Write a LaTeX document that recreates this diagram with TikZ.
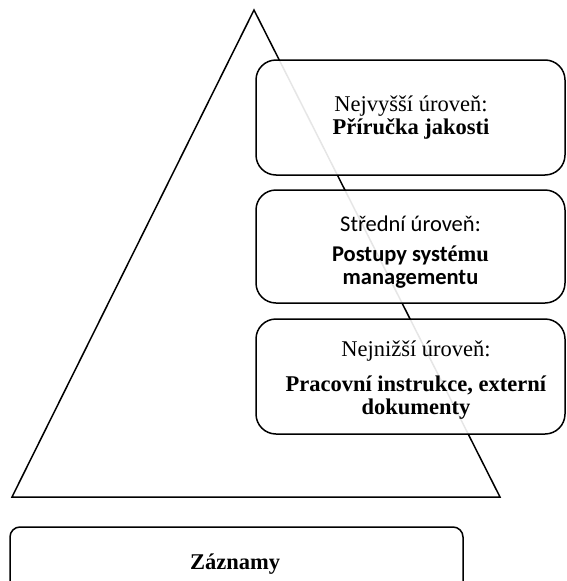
\documentclass[tikz,border=0pt]{standalone}
\usepackage{fontspec}
\setmainfont{Liberation Serif}
\newfontfamily\calib{Carlito}
\begin{document}
\begin{tikzpicture}[x=1pt,y=-1pt,
  lvlbox/.style={draw=black, line width=1.5pt, rounded corners=20pt, fill=white, fill opacity=0.9, inner sep=0pt},
  recbox/.style={draw=black, line width=1.5pt, rounded corners=10pt, fill=white, inner sep=0pt},
  lbl/.style={align=center, inner sep=0pt, font=\fontsize{22.5}{23}\selectfont},
  tri/.style={draw=black, line width=1.5pt, line join=miter}]
\useasboundingbox (0,0) rectangle (566,581);
\clip (0,0) rectangle (566,581);
% pyramid
\coordinate (apex) at (254,10);
\coordinate (bl) at (12,497);
\coordinate (br) at (500,497);
\draw[tri] (apex) -- (br) -- (bl) -- cycle;
% level boxes
\node[lvlbox, minimum width=309pt, minimum height=115pt] (b1) at (410.5,117.5) {};
\node[lvlbox, minimum width=309pt, minimum height=113pt] (b2) at (410.5,246.5) {};
\node[lvlbox, minimum width=309pt, minimum height=115pt] (b3) at (410.5,376.5) {};
\node[recbox, minimum width=453pt, minimum height=80pt] (b4) at (236.5,567) {};
% texts
\node[lbl] (t1) at (411,118) {Nejvyšší úroveň:\\\textbf{Příručka jakosti}};
\node[lbl] (t2) at (410.5,252) {{\calib Střední úroveň:}\\[7pt]\textbf{{\calib Postupy syst}ému}\\\textbf{\calib managementu}};
\node[lbl] (t3) at (416,380) {Nejnižší úroveň:\\[12pt]\textbf{Pracovní instrukce, externí}\\\textbf{dokumenty}};
\node[lbl] (t4) at (235,564) {\textbf{Záznamy}};
\end{tikzpicture}
\end{document}
